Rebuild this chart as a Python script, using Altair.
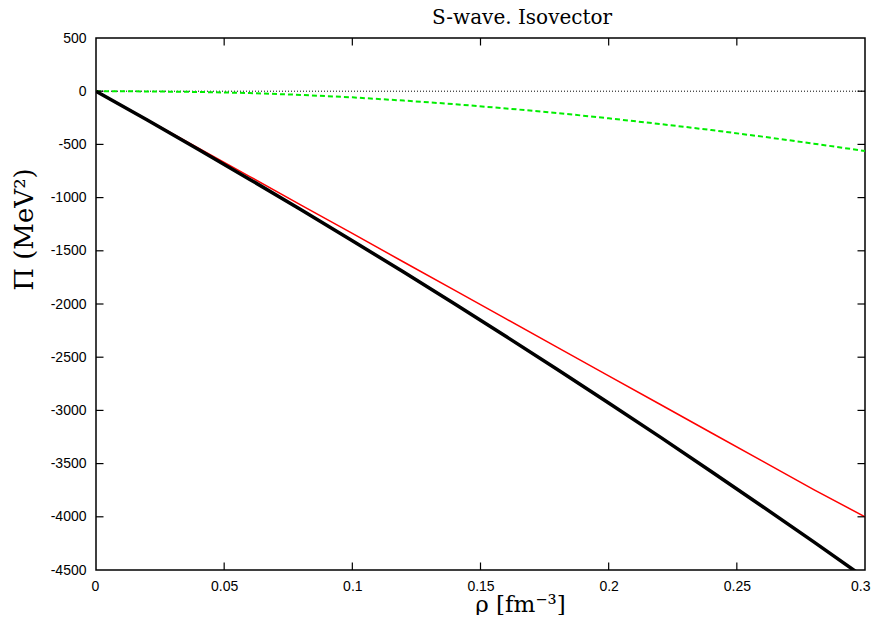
import altair as alt
import pandas as pd

# density rho [fm^-3]
rho = [0, 0.02, 0.04, 0.06, 0.08, 0.10, 0.12, 0.14, 0.16, 0.18, 0.20, 0.22, 0.24, 0.26, 0.28, 0.30]
# thick black curve
pi_full = [0, -271, -548, -829, -1114, -1405, -1700, -2001, -2306, -2615, -2930, -3249, -3574, -3903, -4236, -4575]
# thin red curve
pi_red = [0, -267, -535, -802, -1070, -1337, -1605, -1872, -2140, -2407, -2675, -2942, -3210, -3477, -3745, -4000]
# dashed green curve
pi_green = [0, -2, -7, -17, -35, -58, -88, -122, -162, -205, -255, -308, -365, -427, -493, -562]

x_ticks = [0, 0.05, 0.1, 0.15, 0.2, 0.25, 0.3]
y_ticks = [-4500, -4000, -3500, -3000, -2500, -2000, -1500, -1000, -500, 0, 500]

title_text = ["S-wave.  Isovector"]

W, H = 769, 532
TICK = 7.5

df = pd.DataFrame({
    "rho": rho * 3,
    "pi": pi_full + pi_red + pi_green,
    "series": ["black"] * len(rho) + ["red"] * len(rho) + ["green"] * len(rho),
})
xt = pd.DataFrame({"v": x_ticks[1:-1]})
yt = pd.DataFrame({"v": y_ticks[1:-1]})
zero = pd.DataFrame({"z": [0]})
tdf = pd.DataFrame({"t": title_text})

xs = alt.Scale(domain=[0, 0.3], nice=False, zero=False)
ys = alt.Scale(domain=[-4500, 500], nice=False, zero=False)

label_font = "Liberation Sans"
title_font = "DejaVu Serif"

xaxis = alt.Axis(
    values=x_ticks, labelExpr="'' + datum.value", ticks=False, domain=False, grid=False,
    labelFont=label_font, labelFontSize=14, labelColor="black", labelPadding=9,
    labelFlush=True, labelFlushOffset=5,
    title="ρ [fm⁻³]", titleFont=title_font, titleFontSize=23, titleFontWeight="normal",
    titleColor="black", titleX=424, titleY=41, titleAlign="center", titleBaseline="alphabetic",
)
yaxis = alt.Axis(
    values=y_ticks, labelExpr="'' + datum.value", ticks=False, domain=False, grid=False,
    labelFont=label_font, labelFontSize=14, labelColor="black", labelPadding=10,
    labelFlush=False,
    title="Π  (MeV²)", titleFont=title_font, titleFontSize=26, titleFontWeight="normal",
    titleColor="black", titleX=-64, titleY=191, titleAngle=-90, titleAlign="center",
    titleBaseline="alphabetic",
)

X = alt.X("rho:Q", scale=xs, axis=xaxis)
Y = alt.Y("pi:Q", scale=ys, axis=yaxis)

zero_line = alt.Chart(zero).mark_rule(color="black", strokeWidth=1, strokeDash=[1, 2]).encode(
    y=alt.Y("z:Q", scale=ys, axis=yaxis)
)

base = alt.Chart(df)
green = base.transform_filter(alt.datum.series == "green").mark_line(
    color="#00ee00", strokeWidth=2, strokeDash=[5, 3], clip=True
).encode(x=X, y=Y)
red = base.transform_filter(alt.datum.series == "red").mark_line(
    color="#ff0000", strokeWidth=1.5, clip=True
).encode(x=X, y=Y)
black = base.transform_filter(alt.datum.series == "black").mark_line(
    color="#000000", strokeWidth=3.5, clip=True
).encode(x=X, y=Y)

tx = alt.X("v:Q", scale=xs, axis=xaxis)
ty = alt.Y("v:Q", scale=ys, axis=yaxis)
bottom_ticks = alt.Chart(xt).mark_rule(color="black", strokeWidth=1.2).encode(
    x=tx, y=alt.value(H), y2=alt.value(H - TICK))
top_ticks = alt.Chart(xt).mark_rule(color="black", strokeWidth=1.2).encode(
    x=tx, y=alt.value(0), y2=alt.value(TICK))
left_ticks = alt.Chart(yt).mark_rule(color="black", strokeWidth=1.2).encode(
    y=ty, x=alt.value(0), x2=alt.value(TICK))
right_ticks = alt.Chart(yt).mark_rule(color="black", strokeWidth=1.2).encode(
    y=ty, x=alt.value(W), x2=alt.value(W - TICK))

title_mark = alt.Chart(tdf).mark_text(
    font=title_font, fontSize=20, color="black", align="center", baseline="alphabetic"
).encode(text="t:N", x=alt.value(426), y=alt.value(-14))

chart = alt.layer(
    zero_line, green, red, black, bottom_ticks, top_ticks, left_ticks, right_ticks, title_mark
).properties(
    width=W, height=H,
    autosize=alt.AutoSizeParams(type="none"),
    padding={"left": 88, "top": 30, "right": 6, "bottom": 45},
    background="white",
).configure_view(stroke="black", strokeWidth=1.5)

chart.save("out.html", embed_options={"renderer": "svg", "actions": False})
